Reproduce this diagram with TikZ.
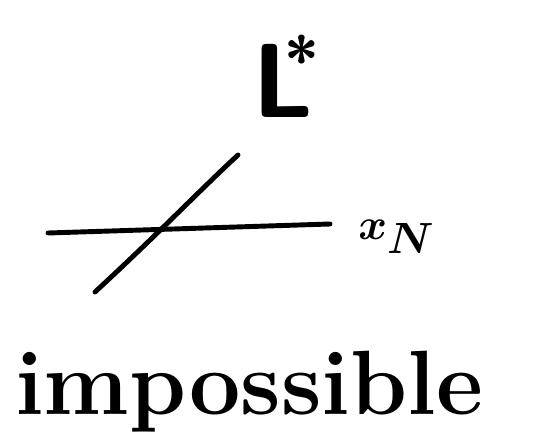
\documentclass[tikz,border=0pt]{standalone}
\usepackage{amsmath, amssymb}
\usepackage{tikz}
\usetikzlibrary{calc}

\begin{document}
\begin{tikzpicture}[x=0.02cm, y=-0.02cm, line cap=round,
  stroke/.style={line width=2.8pt},
  hand/.style={inner sep=0pt, font=\fontsize{52}{56}\selectfont\bfseries}]
  \useasboundingbox (0,0) rectangle (544,432);
  % ---- label on top ----
  \node[hand, font=\fontsize{60}{64}\selectfont\bfseries\sffamily, anchor=base west]
    (lstar) at (252,118) {L\kern-0.28em\raisebox{20pt}{\fontsize{36}{36}\selectfont *}};
  % ---- the two lines ----
  \draw[stroke] (48,233) -- (330,224);
  \draw[stroke] (95,292) .. controls (160,232) and (200,190) .. (238,155);
  \node[hand, anchor=west] (xn) at (358,237) {$\boldsymbol{x_N}$};
  % ---- caption below ----
  \node[hand, anchor=base] (caption) at (249,414) {impossible};
\end{tikzpicture}
\end{document}
